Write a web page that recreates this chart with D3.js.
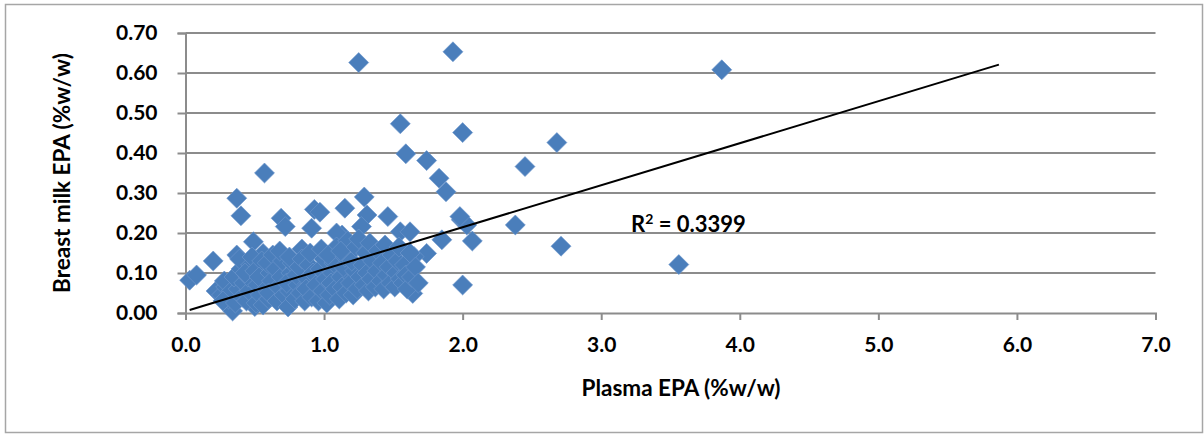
<!DOCTYPE html>
<html>
<head>
<meta charset="utf-8">
<script src="https://cdn.jsdelivr.net/npm/d3@7"></script>
<style>
  html, body { margin: 0; padding: 0; background: #fff; }
  svg { display: block; }
  text { font-family: Lato, "Open Sans", sans-serif; font-weight: bold; fill: #000; }
</style>
</head>
<body>
<svg id="chart" width="1204" height="436"></svg>
<script>
// Plasma EPA (%w/w) for each participant
const plasmaEPA = [
  0.03, 0.08, 0.20, 0.22, 0.34, 0.37, 0.40, 0.57, 0.37, 0.49, 0.56, 0.69, 0.72, 0.93, 0.97, 0.91,
  1.15, 1.29, 1.31, 1.46, 1.27, 1.13, 1.55, 1.62, 1.74, 1.85, 1.99, 2.03, 2.00, 1.64, 1.65, 1.61,
  2.07, 2.38, 2.71, 2.45, 2.68, 2.00, 1.55, 1.59, 1.74, 1.83, 1.88, 1.25, 1.93, 3.87, 3.56, 0.50,
  1.98, 1.09, 0.84,
  0.26, 0.29, 0.31, 0.28, 0.33, 0.27,
  0.36, 0.38, 0.35, 0.40, 0.41, 0.39, 0.42,
  0.44, 0.46, 0.45, 0.47, 0.43, 0.48,
  0.51, 0.52, 0.50, 0.54, 0.55, 0.53, 0.56,
  0.58, 0.60, 0.61, 0.59, 0.62, 0.63, 0.60,
  0.66, 0.67, 0.65, 0.69, 0.70, 0.68, 0.71,
  0.74, 0.75, 0.76, 0.73, 0.77, 0.75,
  0.79, 0.81, 0.80, 0.82, 0.83, 0.84,
  0.86, 0.88, 0.87, 0.89, 0.90, 0.91, 0.92,
  0.94, 0.96, 0.97, 0.99, 1.00, 1.01, 0.98, 1.02,
  1.04, 1.06, 1.05, 1.07, 1.08, 1.09, 1.03,
  1.11, 1.12, 1.13, 1.14, 1.15, 1.16, 1.17, 1.12,
  1.19, 1.21, 1.22, 1.20, 1.23, 1.24, 1.25, 1.26,
  1.28, 1.29, 1.30, 1.31, 1.32, 1.33, 1.34, 1.35,
  1.37, 1.38, 1.39, 1.41, 1.42, 1.43, 1.44, 1.45,
  1.47, 1.48, 1.49, 1.51, 1.52, 1.53, 1.55, 1.54,
  1.57, 1.58, 1.59, 1.60, 1.62, 1.63, 1.66, 1.68
];

// Breast milk EPA (%w/w), same order as plasmaEPA
const milkEPA = [
  0.082, 0.095, 0.130, 0.055, 0.005, 0.287, 0.243, 0.350, 0.145, 0.178, 0.149, 0.237, 0.216, 0.259, 0.252, 0.212,
  0.262, 0.290, 0.245, 0.241, 0.216, 0.195, 0.203, 0.203, 0.149, 0.183, 0.233, 0.220, 0.070, 0.049, 0.141, 0.108,
  0.180, 0.220, 0.167, 0.366, 0.426, 0.451, 0.473, 0.398, 0.381, 0.337, 0.303, 0.626, 0.653, 0.608, 0.121, 0.016,
  0.241, 0.200, 0.160,
  0.045, 0.065, 0.035, 0.080, 0.055, 0.030,
  0.025, 0.060, 0.090, 0.110, 0.040, 0.135, 0.075,
  0.030, 0.055, 0.090, 0.120, 0.100, 0.140,
  0.025, 0.070, 0.105, 0.045, 0.130, 0.090, 0.020,
  0.060, 0.035, 0.100, 0.125, 0.080, 0.145, 0.050,
  0.030, 0.065, 0.110, 0.090, 0.130, 0.155, 0.045,
  0.015, 0.055, 0.100, 0.075, 0.125, 0.140,
  0.035, 0.070, 0.095, 0.115, 0.050, 0.135,
  0.030, 0.085, 0.060, 0.120, 0.150, 0.040, 0.100,
  0.070, 0.030, 0.110, 0.055, 0.135, 0.085, 0.160, 0.025,
  0.045, 0.100, 0.075, 0.125, 0.060, 0.165, 0.145,
  0.035, 0.090, 0.065, 0.115, 0.140, 0.050, 0.180, 0.155,
  0.075, 0.045, 0.105, 0.130, 0.165, 0.060, 0.185, 0.090,
  0.120, 0.070, 0.150, 0.100, 0.055, 0.175, 0.085, 0.130,
  0.065, 0.105, 0.155, 0.080, 0.125, 0.060, 0.170, 0.095,
  0.115, 0.075, 0.145, 0.065, 0.100, 0.130, 0.085, 0.165,
  0.075, 0.120, 0.095, 0.060, 0.150, 0.090, 0.115, 0.075
];

// Axis ticks
const xTicks = [0, 1, 2, 3, 4, 5, 6, 7];
const yTicks = [0, 0.1, 0.2, 0.3, 0.4, 0.5, 0.6, 0.7];

// Linear trendline and its fit statistic
const trendSlope = 0.105;
const trendIntercept = 0.0045;
const trendRange = [0.03, 5.87];
const rSquared = 0.3399;

const svg = d3.select("#chart");
const W = 1204, H = 436;
const plot = { left: 185.5, right: 1155.5, top: 33, bottom: 313 };

const x = d3.scaleLinear().domain([0, 7]).range([plot.left, plot.right]);
const y = d3.scaleLinear().domain([0, 0.7]).range([plot.bottom, plot.top]);

// Outer chart frame
svg.append("rect")
  .attr("x", 5.5).attr("y", 4.5)
  .attr("width", W - 7).attr("height", H - 8)
  .attr("fill", "#fff").attr("stroke", "#a6a6a6").attr("stroke-width", 1.5);

const grey = "#8c8c8c";

// Horizontal gridlines
svg.append("g")
  .selectAll("line")
  .data(yTicks.slice(1))
  .join("line")
  .attr("x1", plot.left).attr("x2", plot.right)
  .attr("y1", d => y(d)).attr("y2", d => y(d))
  .attr("stroke", grey).attr("stroke-width", 2);

// Y axis
const yAxis = svg.append("g")
  .attr("transform", `translate(${plot.left},0)`)
  .call(d3.axisLeft(y).tickValues(yTicks).tickFormat(d3.format(".2f")).tickSize(8).tickPadding(20));
// X axis
const xAxis = svg.append("g")
  .attr("transform", `translate(0,${plot.bottom})`)
  .call(d3.axisBottom(x).tickValues(xTicks).tickFormat(d3.format(".1f")).tickSize(7).tickPadding(17));

[yAxis, xAxis].forEach(a => {
  a.select(".domain").attr("stroke", grey).attr("stroke-width", 2);
  a.selectAll(".tick line").attr("stroke", grey).attr("stroke-width", 2);
  a.selectAll(".tick text")
    .attr("font-family", "Lato, 'Open Sans', sans-serif")
    .attr("font-weight", "bold")
    .attr("font-size", 21)
    .attr("fill", "#000");
});

// Data points (diamonds)
const diamond = d3.symbol().type(d3.symbolSquare).size(200);
svg.append("g")
  .selectAll("path")
  .data(plasmaEPA.map((v, i) => [v, milkEPA[i]]))
  .join("path")
  .attr("d", diamond)
  .attr("transform", d => `translate(${x(d[0])},${y(d[1])}) rotate(45)`)
  .attr("fill", "#4a7ebb")
  .attr("stroke", "#6d97cc")
  .attr("stroke-width", 0.6);

// Trendline
svg.append("line")
  .attr("x1", x(trendRange[0]))
  .attr("y1", y(trendIntercept + trendSlope * trendRange[0]))
  .attr("x2", x(trendRange[1]))
  .attr("y2", y(trendIntercept + trendSlope * trendRange[1]))
  .attr("stroke", "#000").attr("stroke-width", 2);

// R² annotation
const r2 = svg.append("text")
  .attr("x", 631).attr("y", 232)
  .attr("font-size", 22);
r2.append("tspan").text("R");
r2.append("tspan").attr("font-size", 14).attr("dy", -8).text("2");
r2.append("tspan").attr("dy", 8).text(" = " + rSquared.toFixed(4));

// Axis titles
svg.append("text")
  .attr("x", 681).attr("y", 396)
  .attr("text-anchor", "middle")
  .attr("font-size", 22.5)
  .text("Plasma EPA (%w/w)");

svg.append("text")
  .attr("transform", "translate(70,173) rotate(-90)")
  .attr("text-anchor", "middle")
  .attr("font-size", 22.5)
  .text("Breast milk EPA (%w/w)");
</script>
</body>
</html>
